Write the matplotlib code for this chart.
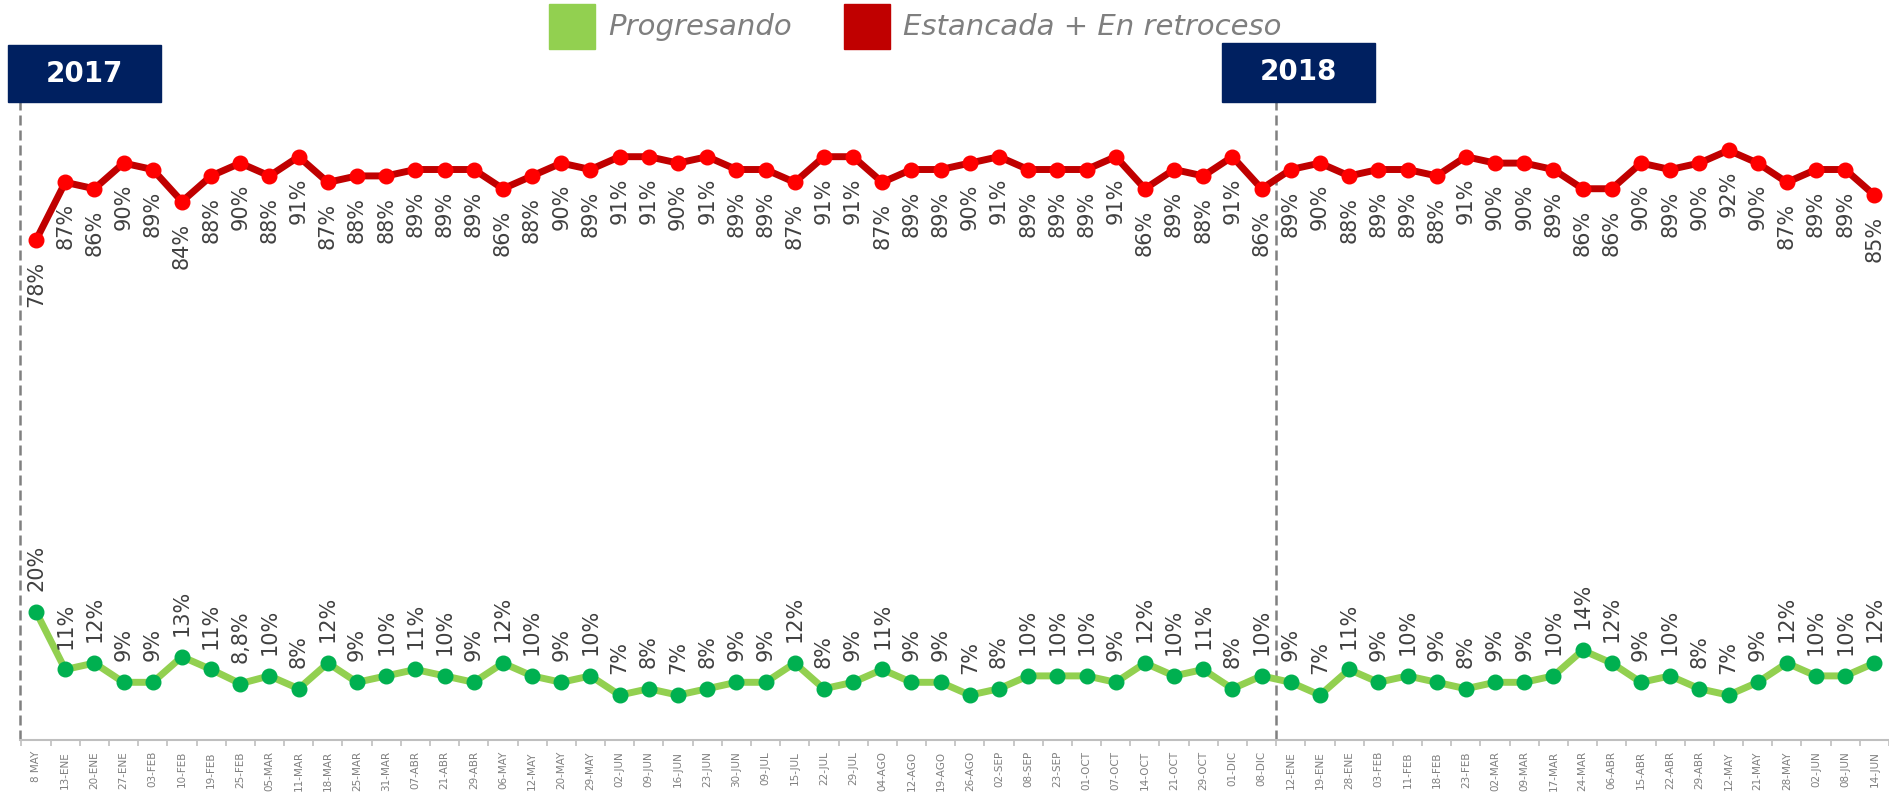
import matplotlib
matplotlib.use("Agg")
from matplotlib import pyplot as plt
from matplotlib.patches import Rectangle

W, H = 1889, 800

fechas = [
    "8 MAY", "13-ENE", "20-ENE", "27-ENE", "03-FEB", "10-FEB", "19-FEB", "25-FEB",
    "05-MAR", "11-MAR", "18-MAR", "25-MAR", "31-MAR", "07-ABR", "21-ABR", "29-ABR",
    "06-MAY", "12-MAY", "20-MAY", "29-MAY", "02-JUN", "09-JUN", "16-JUN", "23-JUN",
    "30-JUN", "09-JUL", "15-JUL", "22-JUL", "29-JUL", "04-AGO", "12-AGO", "19-AGO",
    "26-AGO", "02-SEP", "08-SEP", "23-SEP", "01-OCT", "07-OCT", "14-OCT", "21-OCT",
    "29-OCT", "01-DIC", "08-DIC", "12-ENE", "19-ENE", "28-ENE", "03-FEB", "11-FEB",
    "18-FEB", "23-FEB", "02-MAR", "09-MAR", "17-MAR", "24-MAR", "06-ABR", "15-ABR",
    "22-ABR", "29-ABR", "12-MAY", "21-MAY", "28-MAY", "02-JUN", "08-JUN", "14-JUN",
]

# Estancada + En retroceso (%)
estancada = [
    78, 87, 86, 90, 89, 84, 88, 90, 88, 91, 87, 88, 88, 89, 89, 89,
    86, 88, 90, 89, 91, 91, 90, 91, 89, 89, 87, 91, 91, 87, 89, 89,
    90, 91, 89, 89, 89, 91, 86, 89, 88, 91, 86, 89, 90, 88, 89, 89,
    88, 91, 90, 90, 89, 86, 86, 90, 89, 90, 92, 90, 87, 89, 89, 85,
]

# Progresando (%)
progresando = [
    20, 11, 12, 9, 9, 13, 11, 8.8, 10, 8, 12, 9, 10, 11, 10, 9,
    12, 10, 9, 10, 7, 8, 7, 8, 9, 9, 12, 8, 9, 11, 9, 9,
    7, 8, 10, 10, 10, 9, 12, 10, 11, 8, 10, 9, 7, 11, 9, 10,
    9, 8, 9, 9, 10, 14, 12, 9, 10, 8, 7, 9, 12, 10, 10, 12,
]

inicio_2018 = 42.5  # entre 08-DIC y 12-ENE


def pct(v):
    if v == int(v):
        return f"{int(v)}%"
    return f"{v:.1f}%".replace(".", ",")


fig = plt.figure(figsize=(W / 100, H / 100), dpi=100)
ax = fig.add_axes([20 / W, 60 / H, 1 - 20 / W, 641 / H])

x = list(range(len(fechas)))
ax.plot(x, estancada, color="#C00000", lw=5, marker="o", ms=10.5,
        mfc="#FF0000", mec="#FF0000", zorder=3)
ax.plot(x, progresando, color="#92D050", lw=5, marker="o", ms=10.5,
        mfc="#00B050", mec="#00B050", zorder=3)

for i, v in enumerate(estancada):
    ax.annotate(pct(v), (i, v), xytext=(0, -15), textcoords="offset points",
                rotation=90, ha="center", va="top", fontsize=15, color="#404040")
for i, v in enumerate(progresando):
    ax.annotate(pct(v), (i, v), xytext=(0, 15), textcoords="offset points",
                rotation=90, ha="center", va="bottom", fontsize=15, color="#404040")

ax.set_xlim(-0.55, 63.46)
ax.set_ylim(0, 100)
ax.set_xticks(x)
ax.set_xticklabels(fechas, rotation=90, fontsize=7.5, color="#7f7f7f")
ax.set_xticks([i + 0.5 for i in range(-1, len(fechas))], minor=True)
ax.tick_params(axis="x", which="major", length=0, pad=8)
ax.tick_params(axis="x", which="minor", length=4, color="#bfbfbf", width=1.2)
ax.set_yticks([])
for s in ["top", "right", "left"]:
    ax.spines[s].set_visible(False)
ax.spines["bottom"].set_color("#bfbfbf")
ax.spines["bottom"].set_linewidth(1.5)

# separadores de año
ax.vlines([-0.55, inicio_2018], 0, 99.6, colors="#808080",
          linestyles=(0, (4, 2)), lw=1.8, clip_on=False)

for x0, y0, txt in [(8, 45, "2017"), (1222, 43, "2018")]:
    fig.add_artist(Rectangle((x0 / W, 1 - 102 / H), 153 / W, (102 - y0) / H,
                             transform=fig.transFigure, color="#002060"))
    fig.text((x0 + 76) / W, 1 - (102 + y0) / 2 / H, txt, color="white",
             fontsize=20, fontweight="bold", ha="center", va="center")

# leyenda
for x0, color, txt in [(549, "#92D050", "Progresando"),
                       (844, "#C00000", "Estancada + En retroceso")]:
    fig.add_artist(Rectangle((x0 / W, 1 - 49 / H), 46 / W, 45 / H,
                             transform=fig.transFigure, color=color))
    fig.text((x0 + 59) / W, 1 - 27 / H, txt, color="#7f7f7f", fontsize=21,
             style="italic", ha="left", va="center")

fig.savefig("out.png", dpi=100)
